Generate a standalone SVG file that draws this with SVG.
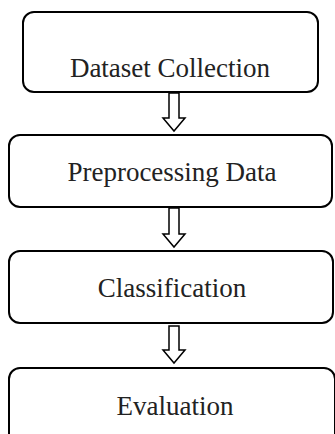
<svg xmlns="http://www.w3.org/2000/svg" width="335" height="434" viewBox="0 0 335 434">
<style>
.box{fill:#fff;stroke:#000;stroke-width:2}
.lbl{font-family:"Liberation Serif","Times New Roman",serif;font-size:27px;fill:#222;text-anchor:middle}
.arr{fill:#fff;stroke:#000;stroke-width:1.5;stroke-linejoin:miter}
</style>
<rect width="335" height="434" fill="#fff"/>
<g id="connectors">
<path class="arr" d="M169,93 H179 V118 H185 L174,131 L163,118 H169 Z"/>
<path class="arr" d="M169,208 H179 V234 H185 L174,247 L163,234 H169 Z"/>
<path class="arr" d="M169,326 H179 V350 H185 L174,363 L163,350 H169 Z"/>
</g>
<g id="n1"><rect class="box" x="23" y="12" width="295" height="80" rx="11"/><text class="lbl" x="170" y="77">Dataset Collection</text></g>
<g id="n2"><rect class="box" x="9" y="135" width="323" height="72" rx="11"/><text class="lbl" x="172" y="181">Preprocessing Data</text></g>
<g id="n3"><rect class="box" x="9" y="251" width="324" height="72" rx="11"/><text class="lbl" x="172" y="297">Classification</text></g>
<g id="n4"><rect class="box" x="9" y="368" width="326" height="80" rx="11"/><text class="lbl" x="175" y="415">Evaluation</text></g>
</svg>
